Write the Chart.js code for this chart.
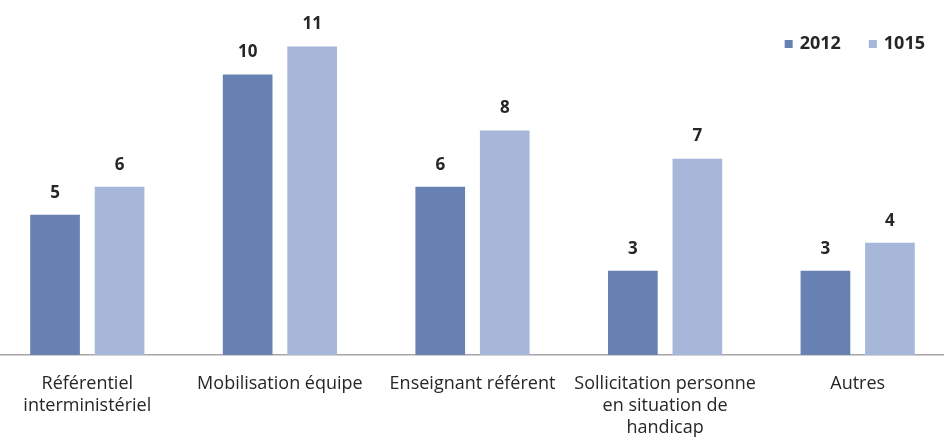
<!DOCTYPE html>
<html>
<head>
<meta charset="utf-8">
<script src="https://cdn.jsdelivr.net/npm/chart.js@4"></script>
<style>
  html, body { margin: 0; padding: 0; background: #fff; overflow: hidden; }
  #wrap { position: absolute; left: -9px; top: 0; width: 963px; height: 441px; }
</style>
</head>
<body>
<div id="wrap"><canvas id="chart"></canvas></div>
<script>
  // catégories (libellés sur plusieurs lignes)
  const CATEGORIES = [
    ["Référentiel", "interministériel"],
    ["Mobilisation équipe"],
    ["Enseignant référent"],
    ["Sollicitation personne", "en situation de", "handicap"],
    ["Autres"],
  ];

  const SERIES_NAMES = ["2012", "1015"];
  const VALUES_2012 = [5, 10, 6, 3, 3];
  const VALUES_1015 = [6, 11, 8, 7, 4];

  const COLORS = ["#6681b2", "#a6b7d9"];
  const FONT = "'Open Sans', 'DejaVu Sans', sans-serif";
  const TEXT_COLOR = "#262626";

  // étiquettes de valeur au-dessus des barres
  const valueLabels = {
    id: "valueLabels",
    afterDatasetsDraw(chart) {
      const ctx = chart.ctx;
      ctx.save();
      ctx.font = "bold 17px " + FONT;
      ctx.fillStyle = TEXT_COLOR;
      ctx.textAlign = "center";
      ctx.textBaseline = "middle";
      chart.data.datasets.forEach((ds, i) => {
        chart.getDatasetMeta(i).data.forEach((bar, j) => {
          ctx.fillText(String(ds.data[j]), bar.x, bar.y - 22);
        });
      });
      ctx.restore();
    },
  };

  // légende en haut à droite, dans la zone du graphique
  const cornerLegend = {
    id: "cornerLegend",
    afterDraw(chart) {
      const ctx = chart.ctx;
      const box = 8;
      const gapText = 7;
      const gapItems = 28;
      const y = 44;
      ctx.save();
      ctx.font = "bold 18px " + FONT;
      ctx.textBaseline = "middle";
      ctx.textAlign = "left";
      let x = chart.chartArea.right - 29;
      const items = chart.data.datasets.map((ds) => ({
        text: ds.label,
        color: ds.backgroundColor,
      }));
      for (let i = items.length - 1; i >= 0; i--) {
        const w = ctx.measureText(items[i].text).width;
        const textX = x - w;
        ctx.fillStyle = TEXT_COLOR;
        ctx.fillText(items[i].text, textX, y);
        ctx.fillStyle = items[i].color;
        ctx.fillRect(textX - gapText - box, y - box / 2, box, box);
        x = textX - gapText - box - gapItems;
      }
      ctx.restore();
    },
  };

  new Chart(document.getElementById("chart"), {
    type: "bar",
    data: {
      labels: CATEGORIES,
      datasets: [
        {
          label: SERIES_NAMES[0],
          data: VALUES_2012,
          backgroundColor: COLORS[0],
          categoryPercentage: 0.67,
          barPercentage: 0.77,
        },
        {
          label: SERIES_NAMES[1],
          data: VALUES_1015,
          backgroundColor: COLORS[1],
          categoryPercentage: 0.67,
          barPercentage: 0.77,
        },
      ],
    },
    options: {
      responsive: true,
      maintainAspectRatio: false,
      animation: false,
      layout: { padding: { top: 8, left: 0, right: 0, bottom: 0 } },
      plugins: {
        legend: { display: false },
        tooltip: { enabled: false },
      },
      scales: {
        x: {
          grid: { display: false, drawTicks: false },
          border: { display: true, color: "#a6a6a6", width: 1.5 },
          ticks: {
            padding: 18,
            color: TEXT_COLOR,
            font: { family: FONT, size: 18, lineHeight: 1.22 },
            maxRotation: 0,
            autoSkip: false,
          },
          afterFit: (scale) => { scale.height = 86; },
        },
        y: {
          display: false,
          min: 0,
          max: 12.37,
        },
      },
    },
    plugins: [valueLabels, cornerLegend],
  });
</script>
</body>
</html>
